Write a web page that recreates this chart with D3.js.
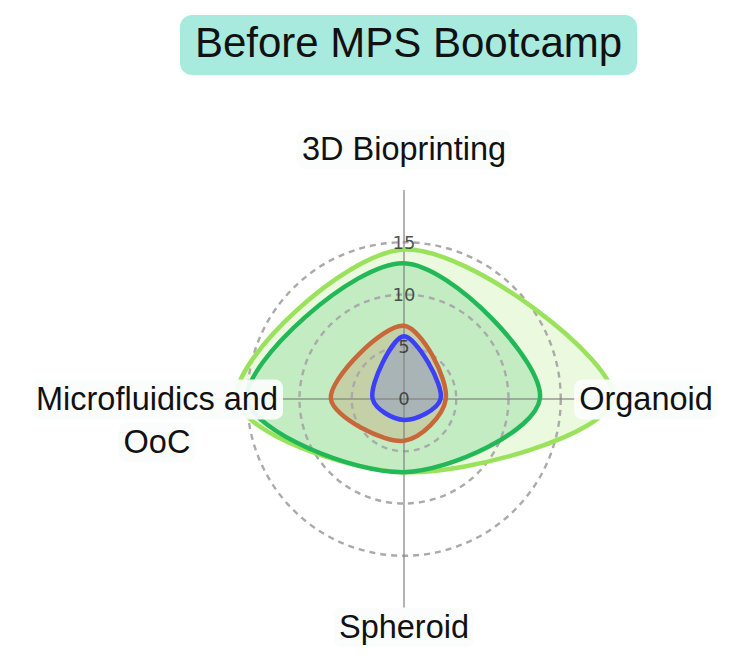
<!DOCTYPE html>
<html>
<head>
<meta charset="utf-8">
<script src="https://cdn.jsdelivr.net/npm/d3@7"></script>
<style>
  body { margin: 0; background: #fff; }
  svg { display: block; font-family: "Liberation Sans", Arial, sans-serif; }
</style>
</head>
<body>
<div id="chart"></div>
<script>
const title = 'Before MPS Bootcamp'
const categories = ['3D Bioprinting', 'Organoid', 'Spheroid', 'Microfluidics and OoC']
const lightGreenValues = [14.3, 20, 7, 16]
const darkGreenValues = [13, 13, 7, 15]
const orangeValues = [7, 4, 4, 7]
const blueValues = [6, 3.5, 2, 3]
const radialTicks = [0, 5, 10, 15]

const series = [
  {name: 'lightGreen', values: lightGreenValues, color: '#9be25c'},
  {name: 'darkGreen', values: darkGreenValues, color: '#22b857'},
  {name: 'orange', values: orangeValues, color: '#c8673a'},
  {name: 'blue', values: blueValues, color: '#3b3ff7'}
]

const width = 734
const height = 668
const cx = 404
const cy = 399
const outerR = 209

const r = d3.scaleLinear().domain([0, 20]).range([0, outerR])
// one category every quarter turn, clockwise from the top
const angle = d3.scalePoint()
  .domain(categories)
  .range([0, 2 * Math.PI * (categories.length - 1) / categories.length])

const svg = d3.select('#chart')
  .append('svg')
    .attr('width', width)
    .attr('height', height)

// title
svg.append('rect')
  .attr('x', 180).attr('y', 15)
  .attr('width', 457).attr('height', 60)
  .attr('rx', 12)
  .attr('fill', '#a8eadd')
svg.append('text')
  .attr('x', 408.5).attr('y', 57)
  .attr('text-anchor', 'middle')
  .attr('font-size', 42)
  .attr('fill', '#111')
  .text(title)

const g = svg.append('g')
  .attr('transform', `translate(${cx}, ${cy})`)

const line = d3.lineRadial()
  .angle((d, i) => angle(categories[i]))
  .radius(d => r(d))
  .curve(d3.curveCatmullRomClosed)

// fills
g.selectAll('.fill')
  .data(series)
  .enter()
    .append('path')
      .attr('class', 'fill')
      .attr('d', d => line(d.values))
      .attr('fill', d => d.color)
      .attr('fill-opacity', 0.2)

// grid circles
g.selectAll('.grid')
  .data(radialTicks.filter(t => t > 0))
  .enter()
    .append('circle')
      .attr('class', 'grid')
      .attr('r', d => r(d))
      .attr('fill', 'none')
      .attr('stroke', '#aaaaaa')
      .attr('stroke-width', 2.4)
      .attr('stroke-dasharray', '6,5')

// angular axis lines
g.selectAll('.spoke')
  .data(categories)
  .enter()
    .append('line')
      .attr('class', 'spoke')
      .attr('x1', 0).attr('y1', 0)
      .attr('x2', d => Math.sin(angle(d)) * outerR)
      .attr('y2', d => -Math.cos(angle(d)) * outerR)
      .attr('stroke', '#808080')
      .attr('stroke-opacity', 0.6)
      .attr('stroke-width', 2)

// outlines
g.selectAll('.outline')
  .data(series)
  .enter()
    .append('path')
      .attr('class', 'outline')
      .attr('d', d => line(d.values))
      .attr('fill', 'none')
      .attr('stroke', d => d.color)
      .attr('stroke-width', 4.5)
      .attr('stroke-linejoin', 'round')

// radial tick labels
g.selectAll('.tick')
  .data(radialTicks)
  .enter()
    .append('text')
      .attr('class', 'tick')
      .attr('x', 0)
      .attr('y', d => -r(d))
      .attr('dy', '0.36em')
      .attr('text-anchor', 'middle')
      .attr('font-family', '"DejaVu Sans", sans-serif')
      .attr('font-size', 18)
      .attr('fill', '#333')
      .attr('fill-opacity', 0.85)
      .text(d => d)

// category labels with white boxes
const labelR = [250, 242, 228, 247]
const labels = g.selectAll('.cat')
  .data(categories)
  .enter()
    .append('g')
      .attr('class', 'cat')
      .attr('transform', (d, i) => {
        const a = angle(d)
        return `translate(${Math.sin(a) * labelR[i]}, ${-Math.cos(a) * labelR[i]})`
      })

labels.each(function(d) {
  const sel = d3.select(this)
  const lines = d === 'Microfluidics and OoC' ? ['Microfluidics and', 'OoC'] : [d]
  const lh = 43
  lines.forEach((t, k) => {
    const box = sel.append('rect')
      .attr('fill', '#fbfdfd')
      .attr('fill-opacity', 0.93)
      .attr('rx', 8)
    const txt = sel.append('text')
      .attr('y', k * lh)
      .attr('dy', '0.35em')
      .attr('text-anchor', 'middle')
      .attr('font-size', 32.5)
      .attr('fill', '#111')
      .text(t)
    const bb = txt.node().getBBox()
    box.attr('x', bb.x - 5).attr('y', bb.y - 2)
      .attr('width', bb.width + 10).attr('height', bb.height + 4)
  })
})
</script>
</body>
</html>
